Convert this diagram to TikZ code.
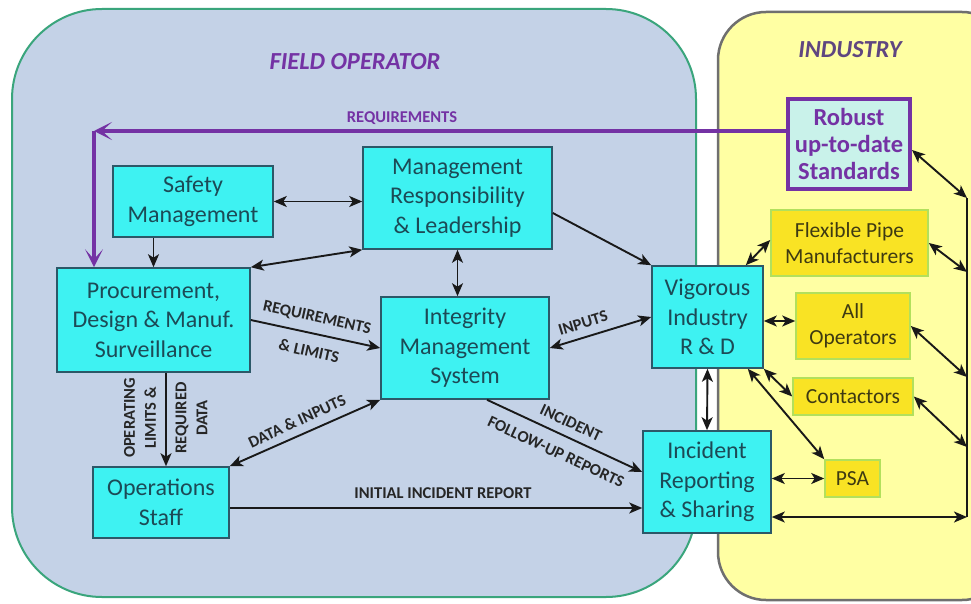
\documentclass[tikz,border=0pt]{standalone}
\usepackage{fontspec}
\setmainfont{Carlito}
\usetikzlibrary{arrows.meta,calc}
\definecolor{panelblue}{HTML}{C4D2E7}
\definecolor{panelgreen}{HTML}{3AA57C}
\definecolor{panelyellow}{HTML}{FFFFA3}
\definecolor{panelgray}{HTML}{6F6F6F}
\definecolor{boxcyan}{HTML}{3EF2F2}
\definecolor{boxedge}{HTML}{2C5868}
\definecolor{boxtext}{HTML}{1C4A56}
\definecolor{goldfill}{HTML}{F9E324}
\definecolor{goldedge}{HTML}{B2E05C}
\definecolor{goldtext}{HTML}{3E3A12}
\definecolor{stdfill}{HTML}{C9F2EA}
\definecolor{purp}{HTML}{7432A4}
\definecolor{indtitle}{HTML}{5F4680}
\begin{document}
\begin{tikzpicture}[x=1pt,y=-1pt,
  box/.style={draw=boxedge, line width=1.6pt, fill=boxcyan, text=boxtext, align=center, inner sep=0pt, font=\fontsize{24}{29.5}\selectfont},
  goldbox/.style={draw=goldedge, line width=1.6pt, fill=goldfill, text=goldtext, align=center, inner sep=0pt, font=\fontsize{21.5}{25.5}\selectfont},
  conn/.style={line width=1.9pt, draw=black!90},
  ar/.style={conn,-{Stealth[length=13pt,width=11pt,inset=3.5pt]}},
  dar/.style={conn,{Stealth[length=13pt,width=11pt,inset=3.5pt]}-{Stealth[length=13pt,width=11pt,inset=3.5pt]}},
  lab/.style={font=\fontsize{16.5}{21}\selectfont\bfseries, text=black!85, inner sep=0pt, align=center},
  purpar/.style={line width=3.5pt, draw=purp, -{Stealth[length=18pt,width=18pt,inset=10pt]}},
  title/.style={font=\fontsize{24.5}{28}\selectfont\bfseries\itshape, inner sep=0pt},
]
\useasboundingbox (0,0) rectangle (971,604);
\fill[white] (0,0) rectangle (971,604);
\clip (0,0) rectangle (971,604);

% panels
\draw[panelgreen, line width=2pt, fill=panelblue, rounded corners=90pt] (12,9) rectangle (696,597);
\draw[panelgray, line width=2.5pt, fill=panelyellow, rounded corners=48pt] (718,12) rectangle (1010,600);

\node[title, text=purp] (tfo) at (355,62) {FIELD OPERATOR};
\node[title, text=indtitle] (tind) at (850,50) {INDUSTRY};

% field operator boxes
\node[box, minimum width=160pt, minimum height=71pt] (safety) at (193,201.5) {Safety\\Management};
\node[box, minimum width=189pt, minimum height=102pt] (mrl) at (457.5,198) {Management\\Responsibility\\\& Leadership};
\node[box, minimum width=193pt, minimum height=104pt] (proc) at (153.5,320) {Procurement,\\Design \& Manuf.\\Surveillance};
\node[box, minimum width=168pt, minimum height=102pt] (ims) at (465,348) {Integrity\\Management\\System};
\node[box, minimum width=111pt, minimum height=102pt] (vig) at (707.5,317) {Vigorous\\Industry\\R \& D};
\node[box, minimum width=136pt, minimum height=71pt] (ops) at (161,502.5) {Operations\\Staff};
\node[box, minimum width=128pt, minimum height=102pt] (inc) at (707,482) {Incident\\Reporting\\\& Sharing};

% industry boxes
\node[draw=purp, line width=4pt, fill=stdfill, text=purp, align=center, inner sep=0pt,
      font=\fontsize{24.5}{27}\selectfont\bfseries, minimum width=122pt, minimum height=90pt] (std) at (849,144) {Robust\\up-to-date\\Standards};
\node[goldbox, minimum width=157pt, minimum height=66pt] (flex) at (849.5,243) {Flexible Pipe\\Manufacturers};
\node[goldbox, minimum width=114pt, minimum height=66pt] (allop) at (853,326) {All\\Operators};
\node[goldbox, minimum width=120pt, minimum height=37pt] (contr) at (853,396.5) {Contactors};
\node[goldbox, minimum width=55pt, minimum height=37pt] (psa) at (852.5,478.5) {PSA};

% requirements (purple)
\coordinate (rc) at (94,131);
\draw[purpar] (std.west |- rc) -- (rc);
\draw[purpar] (rc) -- (rc |- proc.north);
\node[lab, text=purp] (lreq) at (402,118) {REQUIREMENTS};

% field operator connectors
\draw[dar] (safety.east) -- (safety.east -| mrl.west);
\draw[ar] (proc.north |- safety.south) -- (proc.north);
\draw[dar] (proc.north east) -- (mrl.south west);
\draw[dar] (mrl.south) -- (mrl.south |- ims.north);
\draw[ar] ([yshift=-15pt]mrl.east) -- (vig.north west);
\draw[ar] (proc.east) -- (ims.west);
\node[lab, rotate=-12.5] (lreq2) at (317,318) {REQUIREMENTS};
\node[lab, rotate=-12.5] (llim) at (309,351) {\& LIMITS};
\draw[dar] (ims.east) -- (vig.west);
\node[lab, rotate=17] (linp) at (583,323) {INPUTS};
\draw[ar] ([xshift=5pt]ops.north |- proc.south) -- ([xshift=5pt]ops.north);
\node[lab, rotate=90] (lop) at (140,418) {OPERATING\\LIMITS \&};
\node[lab, rotate=90] (lrd) at (191.5,418) {REQUIRED\\DATA};
\draw[dar] (ops.north east) -- (ims.south west);
\node[lab, rotate=25] (ldat) at (297,421) {DATA \& INPUTS};
\draw[ar] ([xshift=22pt]ims.south) -- ([yshift=10pt]inc.west);
\node[lab, rotate=-25] (linc) at (571,423) {INCIDENT};
\node[lab, rotate=-25] (lfol) at (556,452) {FOLLOW-UP REPORTS};
\draw[ar] ([yshift=-5.5pt]ops.east) -- ([yshift=-5.5pt]ops.east -| inc.west);
\node[lab] (lini) at (443,493) {INITIAL INCIDENT REPORT};

% industry connectors
\draw[dar] (vig.south) -- (inc.north);
\draw[dar] ([xshift=-18pt]vig.north east) -- ([yshift=3pt]flex.west);
\draw[dar] ([yshift=-4pt]vig.east) -- ([yshift=-4pt]vig.east -| allop.west);
\draw[dar] (vig.south east) -- (contr.west);
\draw[dar] ([xshift=-16pt]vig.south east) -- (psa.north west);
\draw[dar] (psa.west -| inc.east) -- (psa.west);

% bus on the right
\coordinate (b1) at (967,198);
\coordinate (b2) at (967,272);
\coordinate (b3) at (967,377);
\coordinate (b4) at (967,447);
\coordinate (b5) at (967,517);
\draw[conn] (b1) -- (b5);
\draw[dar] ([yshift=-6pt]std.east) -- (b1);
\draw[dar] (flex.east) -- (b2);
\draw[dar] (allop.east) -- (b3);
\draw[dar] (contr.east) -- (b4);
\draw[dar] ([yshift=-35pt]inc.east) -- (b5);
\end{tikzpicture}
\end{document}
